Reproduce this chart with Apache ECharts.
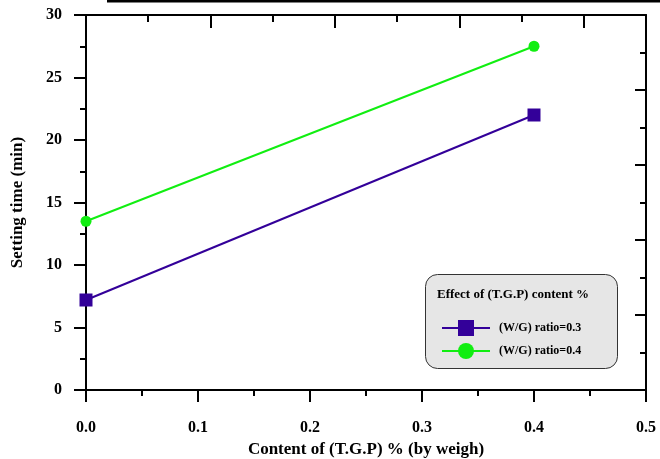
<!DOCTYPE html>
<html><head><meta charset="utf-8">
<script src="https://cdn.jsdelivr.net/npm/echarts@6/dist/echarts.min.js"></script>
<style>html,body{margin:0;padding:0;background:#fff}#c{width:660px;height:459px}</style>
</head><body><div id="c"></div>
<script>
var xContent = [0.0, 0.4];
var wg03 = [7.2, 22.0];
var wg04 = [13.5, 27.5];
var seriesNames = ['(W/G) ratio=0.3', '(W/G) ratio=0.4'];
var legendTitle = 'Effect of (T.G.P) content %';
var xTitle = 'Content of (T.G.P) % (by weigh)';
var yTitle = 'Setting time (min)';

var FONT = '"Liberation Serif", "Times New Roman", serif';
function pairs(ys){ return xContent.map(function(x,i){ return [x, ys[i]]; }); }

var chart = echarts.init(document.getElementById('c'), null, {renderer:'canvas'});
var axLine = {show:true, onZero:false, lineStyle:{color:'#000', width:2}};
chart.setOption({
  animation:false,
  backgroundColor:'#fff',
  grid:{left:86, right:14, top:15, bottom:69, containLabel:false, outerBoundsMode:'none'},
  xAxis:[
    {type:'value', position:'bottom', min:0, max:0.5, interval:0.1,
     axisLine:axLine, splitLine:{show:false},
     axisTick:{show:true, inside:false, length:12, lineStyle:{color:'#000', width:2}},
     minorTick:{show:true, splitNumber:2, length:6, lineStyle:{color:'#000', width:2}},
     axisLabel:{margin:30, color:'#000', fontFamily:FONT, fontWeight:'bold', fontSize:16,
       formatter:function(v){return v.toFixed(1);}},
     name:xTitle, nameLocation:'middle', nameGap:50,
     nameTextStyle:{color:'#000', fontFamily:FONT, fontWeight:'bold', fontSize:17}},
    {type:'value', position:'top', min:0, max:4.5, interval:1,
     axisLine:axLine, splitLine:{show:false},
     axisTick:{show:true, inside:true, length:13, lineStyle:{color:'#000', width:2}},
     minorTick:{show:true, splitNumber:2, length:7, lineStyle:{color:'#000', width:2}},
     axisLabel:{show:false}}
  ],
  yAxis:[
    {type:'value', position:'left', min:0, max:30, interval:5,
     axisLine:axLine, splitLine:{show:false},
     axisTick:{show:true, inside:false, length:12, lineStyle:{color:'#000', width:2}},
     minorTick:{show:true, splitNumber:2, length:6, lineStyle:{color:'#000', width:2}},
     axisLabel:{margin:24, color:'#000', fontFamily:FONT, fontWeight:'bold', fontSize:16},
     name:yTitle, nameLocation:'middle', nameGap:60, nameRotate:90,
     nameTextStyle:{color:'#000', fontFamily:FONT, fontWeight:'bold', fontSize:17}},
    {type:'value', position:'right', min:0, max:30, interval:6,
     axisLine:axLine, splitLine:{show:false},
     axisTick:{show:true, inside:true, length:11, lineStyle:{color:'#000', width:2}},
     minorTick:{show:true, splitNumber:2, length:6, lineStyle:{color:'#000', width:2}},
     axisLabel:{show:false}}
  ],
  legend:{
    orient:'vertical', left:436, top:315, itemWidth:48, itemHeight:20, itemGap:7,
    data:seriesNames,
    textStyle:{color:'#000', fontFamily:FONT, fontWeight:'bold', fontSize:12, padding:[0,0,0,4]}
  },
  graphic:[
    {type:'rect', z:1, shape:{x:425.5, y:274.5, width:192, height:94, r:12},
     style:{fill:'#e6e6e6', stroke:'#333', lineWidth:1}},
    {type:'text', z:2, x:437, y:295, style:{text:legendTitle, fill:'#000',
      font:'bold 13px ' + FONT, textVerticalAlign:'middle'}},
    {type:'rect', z:2, shape:{x:107, y:0, width:553, height:2.5}, style:{fill:'#000'}}
  ],
  series:[
    {name:seriesNames[0], type:'line', data:pairs(wg03), symbol:'rect', symbolSize:13,
     itemStyle:{color:'#330099'}, lineStyle:{color:'#330099', width:2}},
    {name:seriesNames[1], type:'line', data:pairs(wg04), symbol:'circle', symbolSize:11,
     itemStyle:{color:'#11ee11'}, lineStyle:{color:'#11ee11', width:2}}
  ]
});
</script></body></html>
